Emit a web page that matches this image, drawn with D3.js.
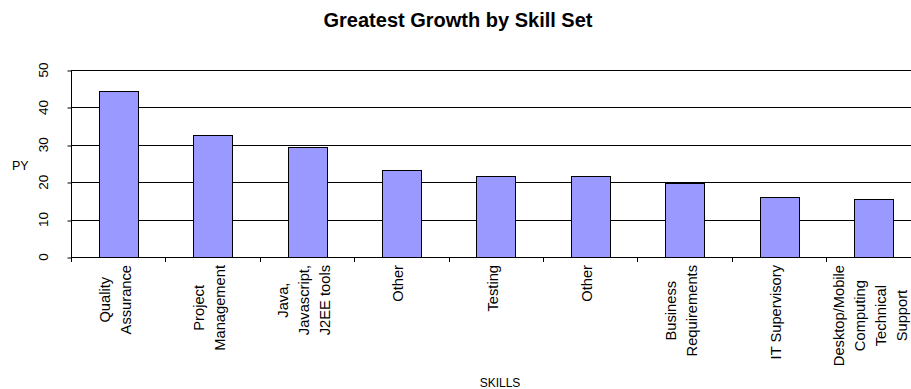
<!DOCTYPE html>
<html>
<head>
<meta charset="utf-8">
<script src="https://cdn.jsdelivr.net/npm/d3@7"></script>
<style>
  body { margin: 0; background: #fff; }
  text { font-family: "Liberation Sans", Arial, sans-serif; fill: #000; }
</style>
</head>
<body>
<div id="chart"></div>
<script>
// skill categories (label lines) and PY values
var skills = [
    ["Quality", "Assurance"],
    ["Project", "Management"],
    ["Java,", "Javascript,", "J2EE tools"],
    ["Other"],
    ["Testing"],
    ["Other"],
    ["Business", "Requirements"],
    ["IT Supervisory"],
    ["Desktop/Mobile", "Computing", "Technical", "Support"]
];
var growth = [44.4, 32.7, 29.4, 23.2, 21.7, 21.7, 19.9, 16.0, 15.5];
var yTicks = [0, 10, 20, 30, 40, 50];

var width = 911, height = 389;
var margin = {top: 70, left: 71};
var step = 94.4;
var plotBottom = 257;
var plotRight = margin.left + step * skills.length;

var svg = d3.select("#chart")
    .append("svg")
    .attr("width", width)
    .attr("height", height);

var x = d3.scaleBand()
    .domain(d3.range(skills.length))
    .range([margin.left, plotRight])
    .paddingInner(0.587)
    .paddingOuter(0.2935);

var y = d3.scaleLinear()
    .domain([0, 50])
    .range([plotBottom, margin.top]);

// gridlines
svg.append("g")
    .selectAll("line")
    .data(yTicks.filter(function (d) { return d > 0; }))
    .enter()
    .append("line")
    .attr("x1", margin.left)
    .attr("x2", width)
    .attr("y1", function (d) { return Math.round(y(d)) + 0.5; })
    .attr("y2", function (d) { return Math.round(y(d)) + 0.5; })
    .style("stroke", "#000")
    .style("stroke-width", 1);

// bars
svg.append("g")
    .selectAll("rect")
    .data(growth)
    .enter()
    .append("rect")
    .attr("x", function (d, i) { return Math.round(x(i)) + 0.5; })
    .attr("y", function (d) { return Math.round(y(d)) + 0.5; })
    .attr("width", Math.round(x.bandwidth()))
    .attr("height", function (d) { return Math.round(y(0)) - Math.round(y(d)); })
    .style("fill", "#9999ff")
    .style("stroke", "#000")
    .style("stroke-width", 1);

// y axis
var yAxis = svg.append("g")
    .attr("transform", "translate(" + (margin.left + 0.5) + ",0.5)")
    .call(d3.axisLeft(y).tickValues(yTicks).tickSize(4).tickSizeOuter(0).tickFormat(""));
yAxis.select(".domain").attr("d", "M0," + Math.round(y(50)) + "V" + Math.round(y(0)));
yAxis.selectAll("line").attr("y1", function (d) { return Math.round(y(d)) - y(d); })
    .attr("y2", function (d) { return Math.round(y(d)) - y(d); });

svg.append("g")
    .selectAll("text")
    .data(yTicks)
    .enter()
    .append("text")
    .attr("transform", function (d) { return "translate(48," + y(d) + ") rotate(-90)"; })
    .attr("text-anchor", "middle")
    .style("font-size", "13.5px")
    .text(function (d) { return d; });

// x axis with ticks at category boundaries
var bounds = d3.range(skills.length + 1).map(function (i) { return margin.left + i * step; });
svg.append("line")
    .attr("x1", margin.left)
    .attr("x2", width)
    .attr("y1", Math.round(plotBottom) + 0.5)
    .attr("y2", Math.round(plotBottom) + 0.5)
    .style("stroke", "#000");
svg.append("g")
    .selectAll("line")
    .data(bounds)
    .enter()
    .append("line")
    .attr("x1", function (d) { return Math.round(d) + 0.5; })
    .attr("x2", function (d) { return Math.round(d) + 0.5; })
    .attr("y1", plotBottom)
    .attr("y2", plotBottom + 5)
    .style("stroke", "#000");

// category labels, rotated, lines stacked across the band
var lineGap = 21;
var labelTop = 265;
var labels = svg.append("g");
skills.forEach(function (lines, i) {
    var cx = x(i) + x.bandwidth() / 2;
    var g = labels.append("g");
    var texts = lines.map(function (s, j) {
        var lx = cx + (j - (lines.length - 1) / 2) * lineGap + 2;
        return g.append("text")
            .attr("text-anchor", "middle")
            .style("font-size", "14.7px")
            .attr("data-x", lx)
            .text(s);
    });
    var maxLen = d3.max(texts, function (t) { return t.node().getComputedTextLength(); });
    var cy = labelTop + maxLen / 2;
    texts.forEach(function (t) {
        t.attr("transform", "translate(" + t.attr("data-x") + "," + cy + ") rotate(-90)");
    });
});

// titles
svg.append("text")
    .attr("x", 458)
    .attr("y", 27)
    .attr("text-anchor", "middle")
    .style("font-size", "20px")
    .style("font-weight", "bold")
    .text("Greatest Growth by Skill Set");

svg.append("text")
    .attr("x", 12)
    .attr("y", 170)
    .style("font-size", "12.5px")
    .text("PY");

svg.append("text")
    .attr("x", 500)
    .attr("y", 387)
    .attr("text-anchor", "middle")
    .style("font-size", "12px")
    .text("SKILLS");
</script>
</body>
</html>
